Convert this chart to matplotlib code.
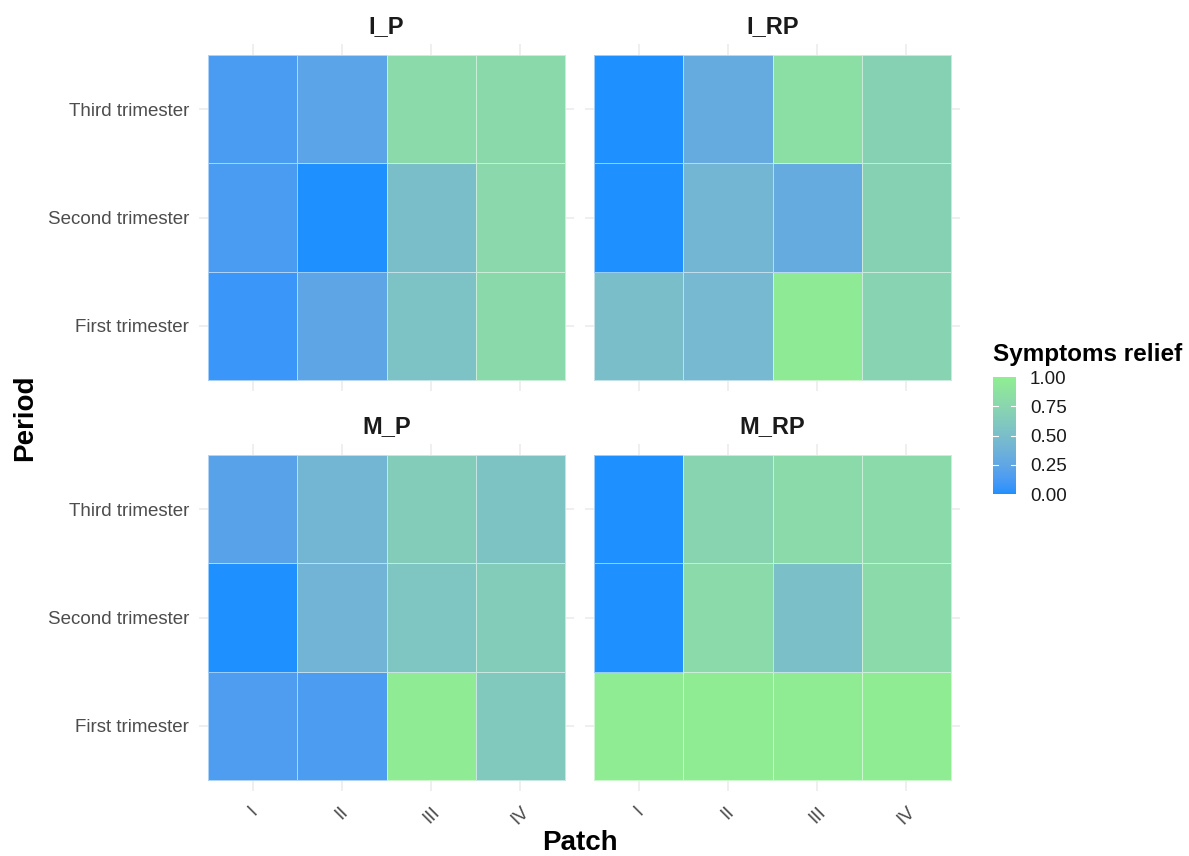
import numpy as np
import matplotlib
matplotlib.use("Agg")
import matplotlib.pyplot as plt
from matplotlib.colors import ListedColormap

plt.rcParams['font.family'] = ['Liberation Sans', 'DejaVu Sans']

patches = ["I", "II", "III", "IV"]
periods = ["First trimester", "Second trimester", "Third trimester"]
panels = ["I_P", "I_RP", "M_P", "M_RP"]

# rows: First, Second, Third trimester ; cols: patch I..IV
I_P = [[0.07, 0.24, 0.55, 0.78],
       [0.13, 0.00, 0.50, 0.77],
       [0.13, 0.22, 0.80, 0.78]]
I_RP = [[0.50, 0.45, 0.96, 0.72],
        [0.00, 0.42, 0.30, 0.70],
        [0.00, 0.30, 0.84, 0.70]]
M_P = [[0.15, 0.14, 0.97, 0.62],
       [0.00, 0.40, 0.58, 0.65],
       [0.20, 0.42, 0.65, 0.56]]
M_RP = [[0.98, 0.98, 0.98, 0.98],
        [0.00, 0.80, 0.52, 0.80],
        [0.00, 0.73, 0.80, 0.80]]
values = {"I_P": I_P, "I_RP": I_RP, "M_P": M_P, "M_RP": M_RP}


# ggplot-like gradient interpolated in Lab space
def to_lab(rgb):
    c = np.asarray(rgb, float)
    c = np.where(c > 0.04045, ((c + 0.055) / 1.055) ** 2.4, c / 12.92)
    m = np.array([[0.4124, 0.3576, 0.1805], [0.2126, 0.7152, 0.0722], [0.0193, 0.1192, 0.9505]])
    xyz = m @ c / np.array([0.95047, 1.0, 1.08883])
    f = np.where(xyz > 0.008856, np.cbrt(xyz), 7.787 * xyz + 16 / 116)
    return np.array([116 * f[1] - 16, 500 * (f[0] - f[1]), 200 * (f[1] - f[2])])


def from_lab(lab):
    L, a, b = lab
    fy = (L + 16) / 116
    fx = fy + a / 500
    fz = fy - b / 200
    f = np.array([fx, fy, fz])
    xyz = np.where(f ** 3 > 0.008856, f ** 3, (f - 16 / 116) / 7.787) * np.array([0.95047, 1.0, 1.08883])
    mi = np.array([[3.2406, -1.5372, -0.4986], [-0.9689, 1.8758, 0.0415], [0.0557, -0.2040, 1.0570]])
    c = mi @ xyz
    c = np.where(c > 0.0031308, 1.055 * np.abs(c) ** (1 / 2.4) - 0.055, 12.92 * c)
    return np.clip(c, 0, 1)


lo = to_lab(np.array([30, 144, 255]) / 255)
hi = to_lab(np.array([144, 238, 144]) / 255)
cols = [from_lab(lo + (hi - lo) * t) for t in np.linspace(0, 1, 256)]
cmap = ListedColormap(cols)

fig = plt.figure(figsize=(11.89, 8.56), dpi=100)
W, H = 1189, 856
boxes = {"I_P": (199, 44), "I_RP": (585, 44), "M_P": (199, 444), "M_RP": (585, 444)}
aw, ah = 375, 347

for name in panels:
    x0, y0 = boxes[name]
    ax = fig.add_axes([x0 / W, 1 - (y0 + ah) / H, aw / W, ah / H])
    z = np.array(values[name])
    ax.set_axisbelow(True)
    ax.grid(True, color="#EBEBEB", linewidth=1.1)
    mesh = ax.pcolormesh(np.arange(5) - 0.5, np.arange(4) - 0.5, z, cmap=cmap, vmin=0, vmax=1,
                         edgecolors=(1, 1, 1, 0.55), linewidth=0.6, zorder=2)
    ax.set_xlim(-0.6, 3.6)
    ax.set_ylim(-0.6, 2.6)
    ax.set_xticks(range(4))
    ax.set_yticks(range(3))
    for s in ax.spines.values():
        s.set_visible(False)
    ax.tick_params(length=0, colors="#4D4D4D", labelsize=13.5)
    if name in ("I_P", "M_P"):
        ax.set_yticklabels(periods)
        ax.tick_params(axis="y", pad=7)
    else:
        ax.set_yticklabels([])
    if name in ("M_P", "M_RP"):
        ax.set_xticklabels(patches, rotation=45, ha="center", va="top")
        ax.tick_params(axis="x", pad=9)
    else:
        ax.set_xticklabels([])
    ax.set_title(name, fontsize=17, fontweight="bold", color="#1A1A1A", pad=8)

fig.text(580 / W, 1 - 843 / H, "Patch", ha="center", va="center", fontsize=20, fontweight="bold")
fig.text(25 / W, 1 - 418 / H, "Period", ha="center", va="center", rotation=90, fontsize=20, fontweight="bold")

cax = fig.add_axes([993 / W, 1 - 494 / H, 23 / W, 117 / H])
cb = fig.colorbar(mesh, cax=cax, ticks=[0, 0.25, 0.5, 0.75, 1.0])
cb.outline.set_visible(False)
cb.ax.set_yticklabels(["0.00", "0.25", "0.50", "0.75", "1.00"])
cb.ax.tick_params(length=0, labelsize=13.5, colors="#1A1A1A", pad=10)
for t in [0.25, 0.5, 0.75]:
    cax.plot([0, 0.22], [t, t], color="white", lw=0.8, transform=cax.get_yaxis_transform())
    cax.plot([0.78, 1], [t, t], color="white", lw=0.8, transform=cax.get_yaxis_transform())
fig.text(993 / W, 1 - 355 / H, "Symptoms relief", ha="left", va="center", fontsize=17.5, fontweight="bold")

fig.savefig("out.png", dpi=100, facecolor="white")
